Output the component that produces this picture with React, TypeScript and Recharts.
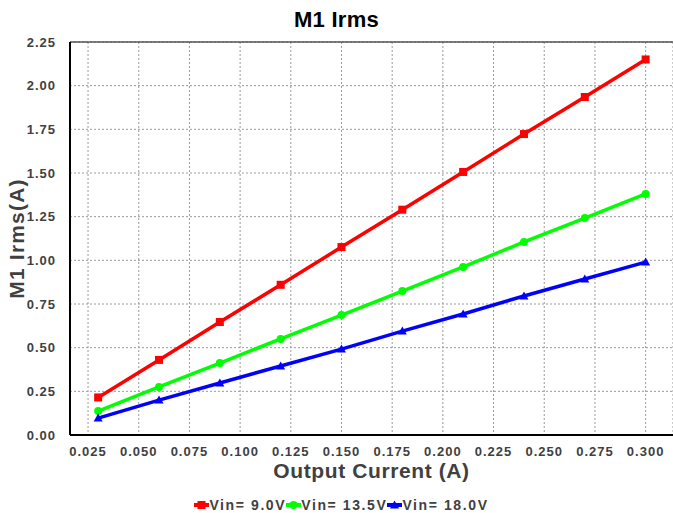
import { LineChart, Line, XAxis, YAxis, CartesianGrid, Legend, ReferenceLine } from 'recharts';

const current = [0.03, 0.06, 0.09, 0.12, 0.15, 0.18, 0.21, 0.24, 0.27, 0.3];
const vin9 = [0.215, 0.43, 0.647, 0.86, 1.076, 1.29, 1.506, 1.723, 1.935, 2.15];
const vin135 = [0.137, 0.275, 0.412, 0.55, 0.687, 0.824, 0.962, 1.105, 1.242, 1.38];
const vin18 = [0.097, 0.2, 0.298, 0.395, 0.492, 0.595, 0.693, 0.796, 0.893, 0.99];

const xTicks = [0.025, 0.05, 0.075, 0.1, 0.125, 0.15, 0.175, 0.2, 0.225, 0.25, 0.275, 0.3];
const yTicks = [0, 0.25, 0.5, 0.75, 1, 1.25, 1.5, 1.75, 2, 2.25];

const data = current.map((x, i) => ({ x, a: vin9[i], b: vin135[i], c: vin18[i] }));

const series = [
  { key: 'a', name: 'Vin= 9.0V', color: '#ff0000', shape: 'square' },
  { key: 'b', name: 'Vin= 13.5V', color: '#00ff00', shape: 'circle' },
  { key: 'c', name: 'Vin= 18.0V', color: '#0000ff', shape: 'triangle' },
];

const FONT = '"Liberation Sans", Arial, sans-serif';
const tickStyle = { fontFamily: FONT, fontWeight: 'bold', fontSize: 13, fill: '#404040', letterSpacing: 1 };

const Marker = ({ cx, cy, color, shape }: any) => {
  if (cx == null || cy == null) return null;
  if (shape === 'square') return <rect x={cx - 4} y={cy - 4} width={8} height={8} fill={color} />;
  if (shape === 'circle') return <circle cx={cx} cy={cy} r={4} fill={color} />;
  return <polygon points={`${cx},${cy - 4.5} ${cx + 4.5},${cy + 3.5} ${cx - 4.5},${cy + 3.5}`} fill={color} />;
};

const LegendContent = () => (
  <div style={{ display: 'flex', justifyContent: 'center', paddingTop: 6, marginLeft: 10, fontFamily: FONT, fontWeight: 'bold', fontSize: 14, letterSpacing: 1.6, color: '#404040' }}>
    {series.map((s) => (
      <div key={s.key} style={{ display: 'flex', alignItems: 'center' }}>
        <svg width={15} height={10}>
          <line x1={0} y1={5} x2={15} y2={5} stroke={s.color} strokeWidth={4} />
          <Marker cx={7.5} cy={5} color={s.color} shape={s.shape} />
        </svg>
        <span>{s.name}</span>
      </div>
    ))}
  </div>
);

export default function App() {
  return (
    <div style={{ position: 'absolute', left: 0, top: 0, width: 673, height: 513, background: '#fff' }}>
      <div style={{ position: 'absolute', top: 7, width: 673, textAlign: 'center', fontFamily: FONT, fontWeight: 'bold', fontSize: 22, letterSpacing: 0.3, color: '#000' }}>
        M1 Irms
      </div>
      <LineChart width={673} height={513} data={data} margin={{ top: 42, right: 0, bottom: 0, left: 0 }}>
        <CartesianGrid stroke="#9a9a9a" strokeDasharray="2 2" />
        <XAxis
          dataKey="x"
          type="number"
          domain={[0.0161, 0.3135]}
          ticks={xTicks}
          tickFormatter={(v: number) => v.toFixed(3)}
          tickLine={false}
          axisLine={{ stroke: '#000', strokeWidth: 2 }}
          tick={tickStyle}
          tickMargin={6}
          height={56}
          allowDataOverflow
          label={{ value: 'Output Current (A)', position: 'insideBottom', offset: 13, style: { fontFamily: FONT, fontWeight: 'bold', fontSize: 21, letterSpacing: 0.6, fill: '#404040' } }}
        />
        <YAxis
          type="number"
          domain={[0, 2.25]}
          ticks={yTicks}
          tickFormatter={(v: number) => v.toFixed(2)}
          tickLine={false}
          axisLine={{ stroke: '#000', strokeWidth: 2 }}
          tick={tickStyle}
          tickMargin={8}
          width={70}
          label={{ value: 'M1 Irms(A)', angle: -90, position: 'insideLeft', offset: 17, style: { textAnchor: 'middle', fontFamily: FONT, fontWeight: 'bold', fontSize: 21, letterSpacing: 1.2, fill: '#404040' } }}
        />
        <ReferenceLine y={2.25} stroke="#555" strokeWidth={1.5} />
        {series.map((s) => (
          <Line
            key={s.key}
            dataKey={s.key}
            name={s.name}
            stroke={s.color}
            strokeWidth={3.5}
            dot={(p: any) => <Marker key={`${s.key}-${p.index}`} cx={p.cx} cy={p.cy} color={s.color} shape={s.shape} />}
            activeDot={false}
            isAnimationActive={false}
          />
        ))}
        <Legend verticalAlign="bottom" height={22} content={<LegendContent />} />
      </LineChart>
    </div>
  );
}
